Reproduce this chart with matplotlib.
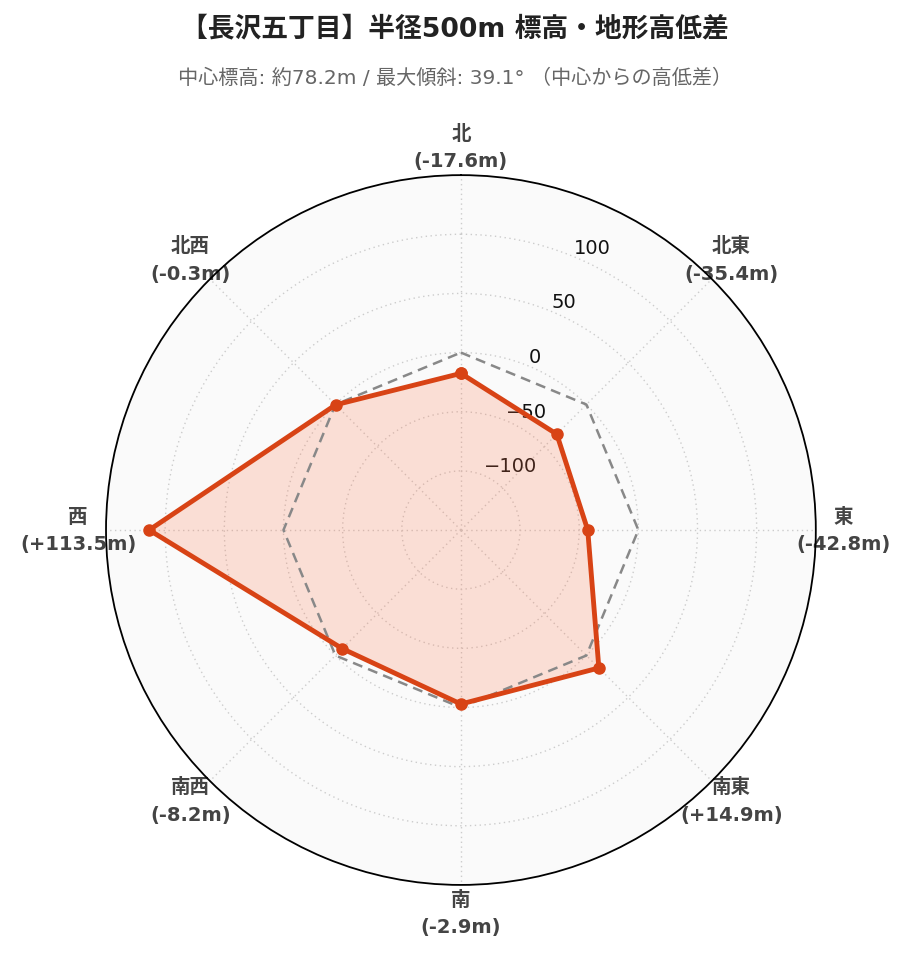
import matplotlib.pyplot as plt
import numpy as np

plt.rcParams['font.family'] = ['DejaVu Sans', 'Noto Sans CJK JP']

# directions, clockwise from north
directions = ['北', '北東', '東', '南東', '南', '南西', '西', '北西']
diffs = [-17.6, -35.4, -42.8, 14.9, -2.9, -8.2, 113.5, -0.3]
reference = [0, 0, 0, 0, 0, 0, 0, 0]
r_ticks = [-100, -50, 0, 50, 100]

title = '【長沢五丁目】半径500m 標高・地形高低差'
subtitle = '中心標高: 約78.2m / 最大傾斜: 39.1° （中心からの高低差）'

line_color = '#d84315'
fill_color = '#ff7043'

fig = plt.figure(figsize=(9.1, 9.62), dpi=100)
ax = fig.add_axes([0.1165, 0.079, 0.780, 0.738], projection='polar')
ax.set_theta_zero_location('N')
ax.set_theta_direction(-1)
ax.set_facecolor('#fafafa')

theta = np.deg2rad(np.arange(len(directions)) * 45.0)
theta_closed = np.append(theta, theta[0])
vals = np.append(diffs, diffs[0])
ref = np.append(reference, reference[0])

ax.plot(theta_closed, ref, color='#888888', lw=1.8, ls=(0, (4, 2.5)), zorder=3)
ax.fill(theta_closed, vals, color=fill_color, alpha=0.2, lw=0, zorder=2)
ax.plot(theta_closed, vals, color=line_color, lw=3.5, marker='o', ms=8,
        solid_joinstyle='miter', zorder=4)

ax.set_ylim(-150, 150)
ax.set_yticks(r_ticks)
ax.set_yticklabels([f'{t}'.replace('-', '\u2212') for t in r_ticks],
                   fontsize=14, color='#111111')
ax.set_rlabel_position(22.5)

labels = [f'{d}\n({v:+.1f}m)' for d, v in zip(directions, diffs)]
ax.set_xticks(theta)
ax.set_xticklabels(labels, fontsize=14, fontweight='bold', color='#444444',
                   linespacing=1.55)
ax.tick_params(axis='x', pad=13, length=0)

ax.grid(True, color='#cccccc', ls=(0, (1, 2.5)), lw=1)
ax.spines['polar'].set_color('black')
ax.spines['polar'].set_linewidth(1.3)

fig.text(0.5, 0.969, title, ha='center', va='center', fontsize=19.3,
         fontweight='bold', color='#222222')
fig.text(0.5, 0.919, subtitle, ha='center', va='center', fontsize=14.5,
         color='#666666')

fig.savefig('out.png', dpi=100)
